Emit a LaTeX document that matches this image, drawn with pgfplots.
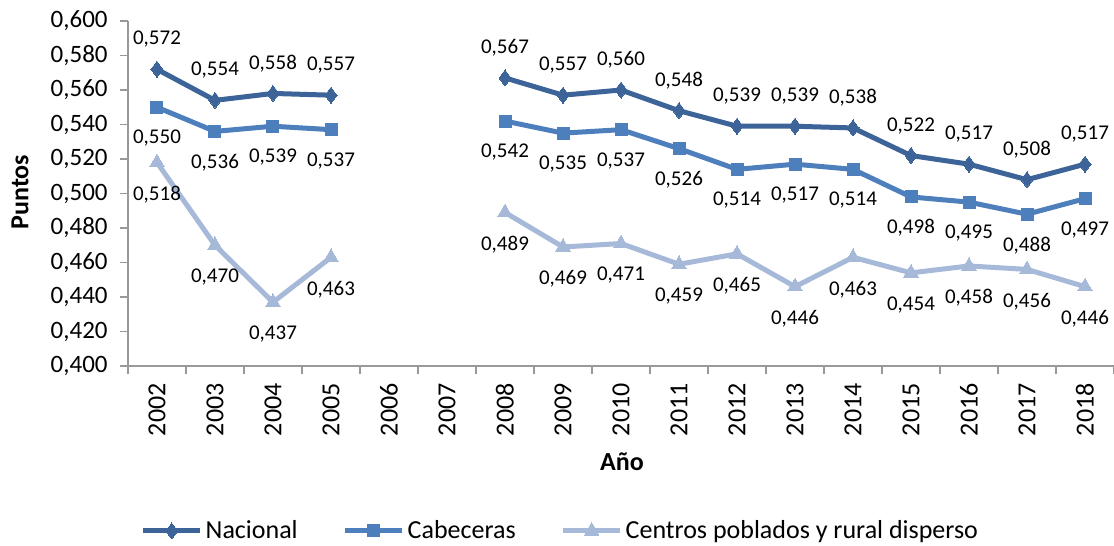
\documentclass[border=0pt]{standalone}
\usepackage{pgfplots}
\pgfplotsset{compat=1.18}
\usepackage{fontspec}
\setmainfont{Carlito}
\definecolor{cNac}{RGB}{60,100,152}
\definecolor{cCab}{RGB}{76,127,188}
\definecolor{cCen}{RGB}{167,185,216}
\begin{document}
\begin{tikzpicture}
\begin{axis}[
  scale only axis,
  width=493pt, height=172.5pt,
  xmin=2001.5, xmax=2018.5,
  ymin=0.4, ymax=0.6,
  ytick={0.40,0.42,...,0.61},
  xtick={2002,...,2018},
  minor xtick={2001.5,2002.5,...,2018.5},
  /pgf/number format/assume math mode=true,
  axis line style={draw=gray!80, line width=0.8pt},
  axis x line*=bottom, axis y line*=left,
  tick align=outside,
  tick style={draw=gray!80, line width=0.8pt},
  major x tick style={draw=none},
  major tick length=4pt, minor tick length=4pt,
  xticklabel style={rotate=90, anchor=east, font=\fontsize{13}{14}\selectfont, inner sep=0pt, xshift=0pt},
  xticklabel={\pgfmathprintnumber[1000 sep={}]{\tick}},
  yticklabel style={font=\fontsize{12.5}{14}\selectfont, inner sep=0pt,
    /pgf/number format/.cd, fixed, fixed zerofill, precision=3, use comma},
  xticklabel shift=4.5pt,
  yticklabel shift=6pt,
  xlabel={\textbf{Año}},
  ylabel={\textbf{Puntos}},
  x label style={at={(axis description cs:0.501,-0.278)}, anchor=center, font=\fontsize{13}{14}\selectfont},
  y label style={at={(axis description cs:-0.1095,0.504)}, anchor=center, rotate=0, font=\fontsize{13}{14}\selectfont},
  unbounded coords=jump,
  clip=false,
  nodes near coords={\pgfmathprintnumber[fixed,fixed zerofill,precision=3,use comma,assume math mode=true]{\pgfplotspointmeta}},
  every node near coord/.append style={font=\fontsize{10.5}{12}\selectfont, text=black, anchor=center},
  legend columns=3,
  legend style={at={(axis description cs:0.439,-0.478)}, anchor=center, draw=none,
    font=\fontsize{13}{15}\selectfont, nodes={inner sep=1.5pt},
    /tikz/every even column/.append style={column sep=21pt}},
  legend cell align=left,
  legend image code/.code={\draw[#1, mark repeat=2, mark phase=2] plot coordinates {(0pt,0pt)(14.25pt,0pt)(28.5pt,0pt)};},
]
\addplot[color=cNac, line width=2.5pt, mark=diamond*, mark size=4pt, mark options={line width=0pt},
  every node near coord/.append style={yshift=15pt}] coordinates {
(2002,0.572)(2003,0.554)(2004,0.558)(2005,0.557)(2006,nan)(2007,nan)
(2008,0.567)(2009,0.557)(2010,0.560)(2011,0.548)(2012,0.539)(2013,0.539)
(2014,0.538)(2015,0.522)(2016,0.517)(2017,0.508)(2018,0.517)};
\addlegendentry{Nacional}
\addplot[color=cCab, line width=2.5pt, mark=square*, mark size=3pt, mark options={line width=0pt},
  every node near coord/.append style={yshift=-15.5pt}] coordinates {
(2002,0.550)(2003,0.536)(2004,0.539)(2005,0.537)(2006,nan)(2007,nan)
(2008,0.542)(2009,0.535)(2010,0.537)(2011,0.526)(2012,0.514)(2013,0.517)
(2014,0.514)(2015,0.498)(2016,0.495)(2017,0.488)(2018,0.497)};
\addlegendentry{Cabeceras}
\addplot[color=cCen, line width=2.5pt, mark=triangle*, mark size=4.2pt, mark options={line width=0pt},
  every node near coord/.append style={yshift=-16pt}] coordinates {
(2002,0.518)(2003,0.470)(2004,0.437)(2005,0.463)(2006,nan)(2007,nan)
(2008,0.489)(2009,0.469)(2010,0.471)(2011,0.459)(2012,0.465)(2013,0.446)
(2014,0.463)(2015,0.454)(2016,0.458)(2017,0.456)(2018,0.446)};
\addlegendentry{Centros poblados y rural disperso}
\end{axis}
\pgfresetboundingbox
\path[use as bounding box] (-64pt,-90pt) rectangle (493pt,183pt);
\end{tikzpicture}
\end{document}
